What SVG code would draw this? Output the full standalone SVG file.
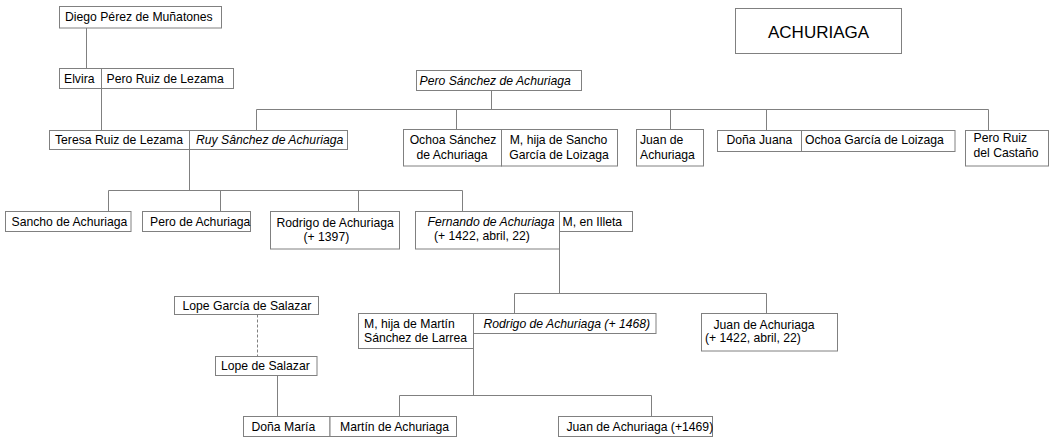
<svg xmlns="http://www.w3.org/2000/svg" width="1053" height="439" viewBox="0 0 1053 439">
  <style>
    .box { fill: #ffffff; stroke: #808080; stroke-width: 1; }
    .ln { fill: none; stroke: #808080; stroke-width: 1; }
    .dash { stroke-dasharray: 3 2; }
    text { font-family: "Liberation Sans", Arial, sans-serif; font-size: 12.2px; fill: #000000; }
    .it { font-style: italic; }
    .mid { text-anchor: middle; }
    .title { font-size: 17px; }
  </style>
  <rect width="1053" height="439" fill="#ffffff"/>

  <!-- connectors -->
  <g id="connectors">
    <path class="ln" d="M86.5 28 V68.5"/>
    <path class="ln" d="M101.5 88.5 V130.5"/>
    <path class="ln" d="M491.5 90.5 V109.5 M256.5 130.5 V109.5 H988.5 V130.5 M456.5 109.5 V129.5 M670.5 109.5 V129.5 M766.5 109.5 V130.5"/>
    <path class="ln" d="M189.5 149.5 V190.5 M108.5 211.5 V190.5 H462.5 V211.5 M220.5 190.5 V211.5 M358.5 190.5 V211.5"/>
    <path class="ln" d="M559.5 231.5 V293.5 M514.5 313.5 V293.5 H766.5 V313.5"/>
    <path class="ln dash" d="M257.5 314.5 V356.5"/>
    <path class="ln" d="M277.5 375.5 V416.5"/>
    <path class="ln" d="M473.5 348.5 V395.5 M399.5 416.5 V395.5 H651.5 V416.5"/>
  </g>

  <g id="title">
    <rect class="box" x="735.5" y="8.5" width="166" height="45"/>
    <text class="title" x="768" y="37.5">ACHURIAGA</text>
  </g>

  <g id="diego-perez-munatones">
    <rect class="box" x="59.5" y="6.5" width="162" height="21.5"/>
    <text x="65" y="21">Diego Pérez de Muñatones</text>
  </g>

  <g id="elvira">
    <rect class="box" x="59.5" y="68.5" width="42" height="20"/>
    <text x="64" y="82.5">Elvira</text>
  </g>
  <g id="pero-ruiz-lezama">
    <rect class="box" x="101.5" y="68.5" width="132" height="20"/>
    <text x="106.5" y="82.5">Pero Ruiz de Lezama</text>
  </g>

  <g id="pero-sanchez-achuriaga">
    <rect class="box" x="416.5" y="70.5" width="165" height="20"/>
    <text class="it" x="419.5" y="84.5">Pero Sánchez de Achuriaga</text>
  </g>

  <g id="teresa-ruiz-lezama">
    <rect class="box" x="49.5" y="130.5" width="140" height="19"/>
    <text x="55" y="144">Teresa Ruiz de Lezama</text>
  </g>
  <g id="ruy-sanchez-achuriaga">
    <rect class="box" x="189.5" y="130.5" width="158" height="19"/>
    <text class="it" x="196" y="144">Ruy Sânchez de Achuriaga</text>
  </g>

  <g id="ochoa-sanchez-achuriaga">
    <rect class="box" x="403.5" y="129.5" width="98" height="36.5"/>
    <text class="mid" x="453" y="143.5">Ochoa Sánchez</text>
    <text class="mid" x="452" y="158.5">de Achuriaga</text>
  </g>
  <g id="m-hija-sancho-garcia">
    <rect class="box" x="501.5" y="129.5" width="116" height="36.5"/>
    <text class="mid" x="558.5" y="143.5">M, hija de Sancho</text>
    <text class="mid" x="559" y="158.5">García de Loizaga</text>
  </g>

  <g id="juan-achuriaga">
    <rect class="box" x="636.5" y="129.5" width="67" height="36.5"/>
    <text x="640" y="143.5">Juan de</text>
    <text x="640" y="158.5">Achuriaga</text>
  </g>

  <g id="dona-juana">
    <rect class="box" x="717.5" y="130.5" width="84" height="21"/>
    <text x="726.5" y="143.5">Doña Juana</text>
  </g>
  <g id="ochoa-garcia-loizaga">
    <rect class="box" x="801.5" y="130.5" width="153.5" height="21"/>
    <text x="805" y="143.5">Ochoa García de Loizaga</text>
  </g>

  <g id="pero-ruiz-castano">
    <rect class="box" x="965.5" y="130.5" width="83" height="35.5"/>
    <text x="973.5" y="141.5">Pero Ruiz</text>
    <text x="973.5" y="157">del Castaño</text>
  </g>

  <g id="sancho-achuriaga">
    <rect class="box" x="5.5" y="211.5" width="125.5" height="20"/>
    <text x="11.5" y="225.5">Sancho de Achuriaga</text>
  </g>
  <g id="pero-achuriaga">
    <rect class="box" x="142.5" y="211.5" width="108" height="20"/>
    <text x="150" y="225.5">Pero de Achuriaga</text>
  </g>
  <g id="rodrigo-achuriaga-1397">
    <rect class="box" x="270.5" y="211.5" width="129" height="37.5"/>
    <text x="276.5" y="226.5">Rodrigo de Achuriaga</text>
    <text x="303.5" y="241">(+ 1397)</text>
  </g>
  <g id="fernando-achuriaga">
    <rect class="box" x="415.5" y="211.5" width="144" height="37.5"/>
    <text class="it" x="427.5" y="225.5">Fernando de Achuriaga</text>
    <text x="434" y="240">(+ 1422, abril, 22)</text>
  </g>
  <g id="m-en-illeta">
    <rect class="box" x="559.5" y="211.5" width="73" height="20"/>
    <text x="562.5" y="225.5">M, en Illeta</text>
  </g>

  <g id="lope-garcia-salazar">
    <rect class="box" x="174.5" y="296.5" width="144" height="18"/>
    <text x="182.5" y="309.5">Lope García de Salazar</text>
  </g>
  <g id="lope-salazar">
    <rect class="box" x="215.5" y="356.5" width="101.5" height="19"/>
    <text x="221" y="370">Lope de Salazar</text>
  </g>

  <g id="m-hija-martin-sanchez">
    <rect class="box" x="358.5" y="313.5" width="115" height="35"/>
    <text x="364" y="328">M, hija de Martín</text>
    <text x="364" y="341.5">Sánchez de Larrea</text>
  </g>
  <g id="rodrigo-achuriaga-1468">
    <rect class="box" x="473.5" y="313.5" width="182.5" height="20"/>
    <text class="it" x="483.5" y="327.5">Rodrigo de Achuriaga (+ 1468)</text>
  </g>

  <g id="juan-achuriaga-1422">
    <rect class="box" x="701.5" y="313.5" width="136" height="37.5"/>
    <text x="713.5" y="328.5">Juan de Achuriaga</text>
    <text x="705" y="341.5">(+ 1422, abril, 22)</text>
  </g>

  <g id="dona-maria">
    <rect class="box" x="243.5" y="416.5" width="86.5" height="20"/>
    <text x="251.5" y="430.5">Doña María</text>
  </g>
  <g id="martin-achuriaga">
    <rect class="box" x="330" y="416.5" width="126.5" height="20"/>
    <text x="340" y="430.5">Martín de Achuriaga</text>
  </g>

  <g id="juan-achuriaga-1469">
    <rect class="box" x="558.5" y="416.5" width="154" height="20"/>
    <text x="566.5" y="430.5">Juan de Achuriaga (+1469)</text>
  </g>
</svg>
